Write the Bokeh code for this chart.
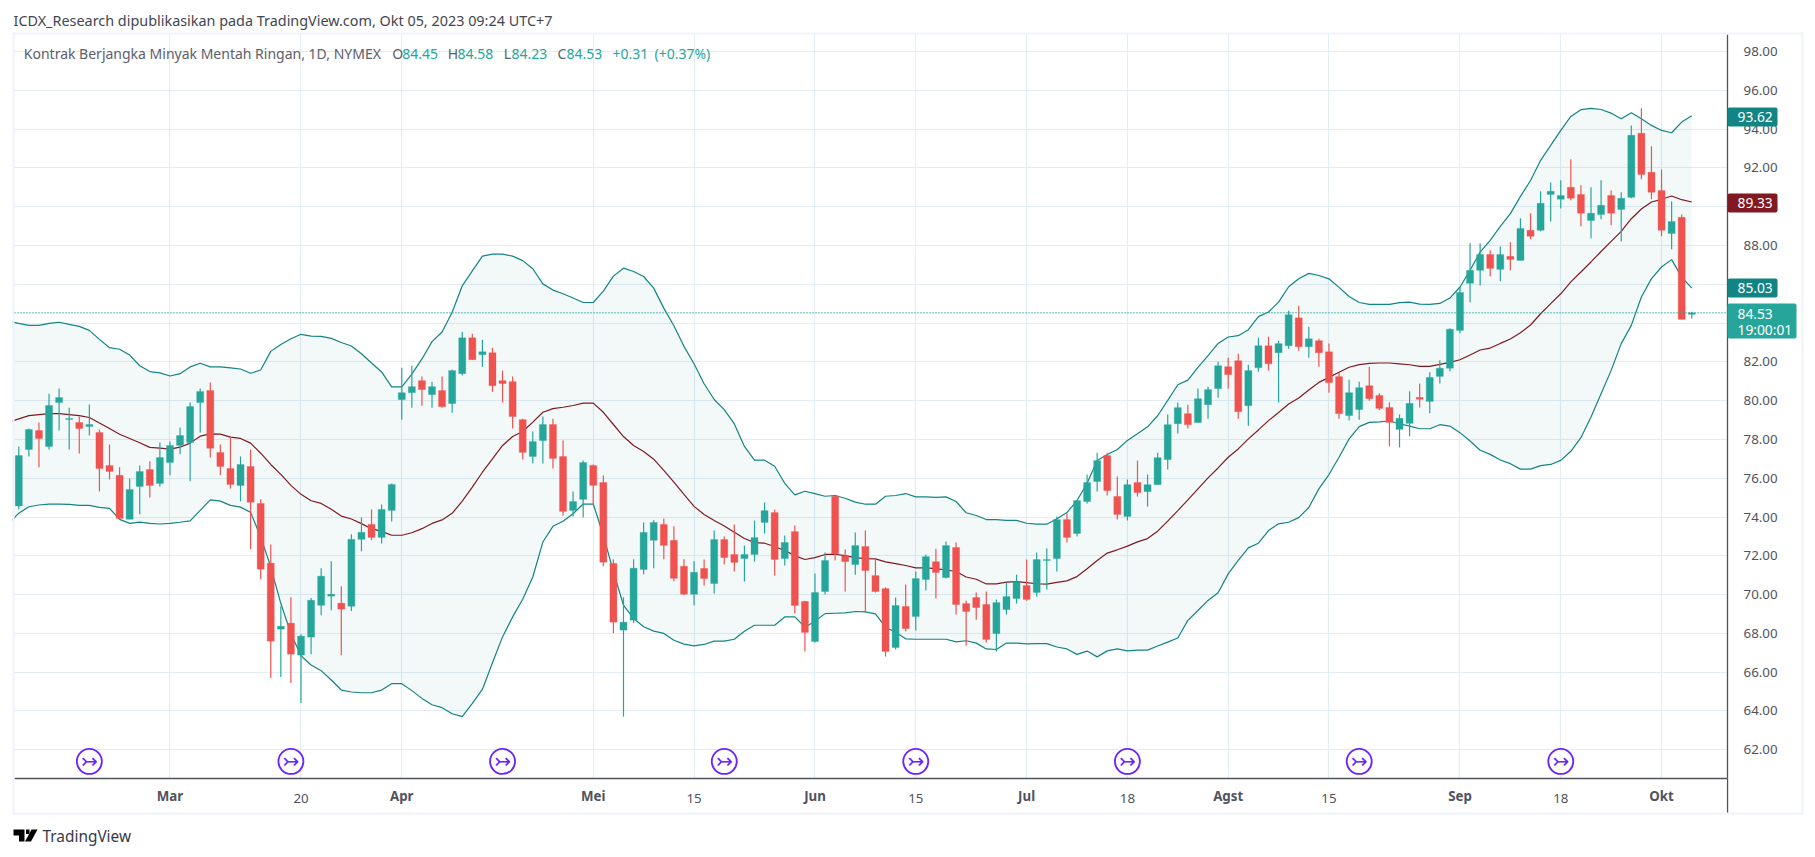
from bokeh.plotting import figure
from bokeh.embed import file_html
from bokeh.resources import INLINE
from bokeh.models import Range1d, FixedTicker, Label, BoxAnnotation, PolyAnnotation, ColumnDataSource, NumeralTickFormatter
from bokeh.core.properties import value

opens = [74.57,77.48,78.46,77.64,79.90,79.03,78.87,78.67,78.36,76.66,
76.15,73.88,75.58,76.45,75.73,76.81,77.69,77.84,79.90,80.52,
77.33,76.50,75.63,76.61,74.70,71.62,68.22,68.53,66.88,67.81,
69.45,69.92,69.56,69.40,72.85,73.62,72.95,74.34,80.05,80.41,
81.03,80.31,80.52,79.85,81.39,83.24,82.37,82.47,81.03,80.98,
79.02,77.12,77.94,78.77,77.12,74.34,74.91,76.66,75.78,71.61,
68.17,68.68,71.30,72.80,73.62,72.80,71.46,70.02,71.35,70.57,
72.84,72.07,71.86,72.07,73.72,74.23,71.86,73.25,69.65,67.58,
70.16,75.07,72.00,71.55,72.48,70.98,70.31,67.27,69.39,68.87,
70.78,71.70,70.88,72.43,69.54,69.85,69.49,67.99,69.23,69.80,
70.47,70.11,71.76,71.86,73.87,73.15,74.80,75.83,77.17,75.06,
74.03,75.78,75.31,75.67,76.96,78.81,79.33,78.87,79.79,80.62,
81.75,82.06,79.74,81.70,82.83,82.47,82.83,84.27,82.78,83.09,
82.52,81.24,79.23,79.54,80.77,80.27,79.65,78.52,78.83,80.17,
79.96,81.25,81.67,83.62,86.05,86.72,87.54,86.77,87.44,87.23,
88.78,88.78,90.63,90.38,91.00,90.63,89.29,89.60,90.58,89.86,
90.48,93.78,91.77,90.84,88.62,89.45,84.45]
highs = [77.64,78.56,78.87,80.36,80.62,79.64,79.18,79.80,78.51,77.74,
76.56,75.99,76.66,76.87,77.84,77.89,78.62,79.90,80.62,80.93,
77.74,78.15,77.12,77.48,74.91,72.59,69.40,69.87,67.96,69.82,
71.36,71.72,70.43,73.11,73.98,74.39,74.65,75.73,81.70,81.80,
81.24,80.98,81.24,81.60,83.55,83.45,83.14,82.73,81.55,81.24,
79.07,78.41,79.18,79.07,77.94,75.32,76.91,76.71,76.14,71.82,
69.86,71.82,73.72,73.83,73.93,73.52,71.82,71.72,71.81,73.30,
73.00,73.62,72.53,73.82,74.75,74.39,73.05,73.56,69.69,71.09,
72.17,75.07,72.32,73.20,73.30,71.81,70.37,69.85,70.52,71.19,
72.07,72.37,72.74,72.69,69.69,70.11,70.16,69.75,70.62,71.03,
71.81,72.17,72.38,74.03,74.18,74.85,76.19,77.32,77.32,76.09,
75.93,76.91,76.19,77.32,79.28,79.90,79.79,80.62,80.72,82.01,
82.21,82.42,81.85,83.24,83.30,83.09,84.64,84.89,83.81,83.19,
82.94,81.44,81.08,80.98,81.75,80.38,79.91,79.29,80.48,80.89,
81.46,82.08,83.73,85.84,88.11,88.11,87.75,87.95,88.16,89.40,
89.66,90.79,91.25,91.36,92.44,91.10,91.00,91.36,90.84,90.74,
94.19,95.07,93.11,91.92,90.27,89.60,84.58]
lows = [74.40,77.12,76.56,77.48,78.46,77.48,77.28,78.20,75.32,75.94,
73.88,73.88,74.14,75.01,75.58,76.15,77.23,75.84,78.36,77.07,
76.15,75.47,74.81,72.34,70.79,65.70,65.75,65.44,64.41,66.93,
68.94,69.20,66.88,69.15,72.23,72.80,72.64,73.77,79.02,79.64,
79.74,79.64,79.64,79.38,81.29,82.11,81.75,80.46,79.90,78.56,
76.97,76.76,76.76,76.50,74.08,74.03,73.98,74.60,71.46,68.01,
63.71,68.53,71.05,71.36,71.82,70.69,69.97,69.45,70.47,70.06,
71.55,71.19,70.67,71.70,73.15,70.98,71.50,69.03,67.07,67.53,
70.00,71.76,70.16,71.03,69.08,70.11,66.81,67.17,68.10,68.15,
70.21,69.80,70.83,68.97,67.37,68.71,67.53,67.07,68.97,69.54,
69.69,69.90,70.27,71.19,72.69,72.99,74.70,75.31,75.11,73.87,
73.82,75.06,74.54,75.67,76.45,78.30,78.56,78.87,79.07,80.15,
80.62,79.07,78.71,81.49,81.55,79.90,82.68,82.57,82.21,81.75,
80.41,79.07,78.97,79.02,80.00,79.50,77.64,77.59,78.16,79.65,
79.35,80.89,81.51,83.47,85.07,85.94,86.41,86.15,86.72,87.23,
88.32,88.73,89.24,89.91,90.33,88.99,88.37,89.35,89.04,88.21,
90.43,91.41,90.38,88.47,87.80,84.19,84.23]
closes = [77.17,78.51,78.05,79.75,80.16,79.08,78.56,78.77,76.50,76.35,
73.93,75.42,76.35,75.63,77.07,77.69,78.20,79.70,80.47,77.54,
76.61,75.68,76.71,74.76,71.31,67.60,68.37,66.93,67.86,69.71,
70.95,70.02,69.25,72.85,73.21,72.95,74.39,75.68,80.41,80.72,
80.57,80.72,79.69,81.55,83.24,82.11,82.52,80.77,80.88,79.18,
77.33,77.89,78.77,77.02,74.29,74.80,76.81,75.63,71.67,68.58,
68.58,71.36,73.21,73.72,72.54,70.84,70.02,71.15,70.83,72.84,
71.91,71.66,72.07,72.94,74.33,71.81,72.69,69.44,68.05,70.11,
71.76,72.10,71.70,72.53,71.24,70.16,67.07,69.44,68.25,70.83,
71.96,71.14,72.53,69.49,69.13,69.33,67.69,69.59,69.90,70.67,
69.75,71.81,71.81,73.87,72.95,74.85,75.78,76.91,75.36,74.13,
75.67,75.26,75.67,77.06,78.76,79.64,78.76,80.10,80.57,81.80,
81.34,79.43,81.55,82.83,81.90,82.94,84.43,82.78,83.19,82.47,
80.93,79.33,80.41,80.67,80.10,79.60,78.88,79.09,79.86,80.07,
81.20,81.67,83.68,85.58,86.72,87.54,86.82,87.54,87.28,88.88,
88.47,90.17,90.79,90.58,90.43,89.66,89.66,90.07,89.66,90.43,
93.68,91.66,90.74,88.78,89.24,84.19,84.53]

# Bollinger bands; the first value of each belongs to the bar just left of the pane
upper = [84.09,83.98,83.88,83.88,83.98,84.04,83.93,83.83,83.62,83.16,82.73,
82.65,82.35,81.80,81.50,81.43,81.27,81.39,81.74,81.93,81.74,
81.74,81.69,81.63,81.41,81.58,82.54,82.89,83.19,83.42,83.33,
83.31,83.21,83.00,82.82,82.42,81.94,81.48,80.71,80.71,81.37,
82.15,83.04,83.54,84.56,85.92,86.69,87.45,87.55,87.55,87.45,
87.22,86.80,86.02,85.70,85.51,85.29,85.06,85.06,85.65,86.42,
86.83,86.66,86.40,85.80,84.77,83.86,82.80,81.90,80.87,80.06,
79.54,78.80,77.64,76.93,76.93,76.62,75.74,75.14,75.33,75.21,
75.07,75.11,74.97,74.77,74.66,74.66,75.07,75.11,75.21,75.04,
75.04,75.01,75.04,74.80,74.22,74.08,73.87,73.87,73.83,73.83,
73.68,73.63,73.63,73.91,74.23,74.85,75.74,76.91,77.22,77.48,
77.95,78.29,78.65,79.22,80.01,80.82,81.06,81.72,82.32,82.95,
83.28,83.35,83.66,84.33,84.57,85.08,85.87,86.28,86.56,86.45,
86.28,85.84,85.37,85.06,84.96,84.96,84.96,85.05,85.08,84.98,
84.96,85.01,85.29,85.86,86.72,87.66,88.26,88.98,89.64,90.53,
91.35,92.39,93.16,93.93,94.65,95.00,95.07,95.01,94.82,94.53,
94.84,94.53,94.19,93.93,93.81,94.36,94.69]
basis = [78.89,79.06,79.23,79.28,79.33,79.33,79.28,79.23,79.13,78.85,78.56,
78.27,78.05,77.83,77.59,77.55,77.50,77.60,77.81,78.17,78.29,
78.27,78.12,78.05,77.81,77.29,76.71,76.20,75.63,75.17,74.84,
74.70,74.40,74.05,73.90,73.66,73.40,73.26,73.06,73.06,73.19,
73.40,73.67,73.85,74.19,74.82,75.54,76.31,77.00,77.69,78.15,
78.41,78.89,79.40,79.59,79.66,79.75,79.87,79.87,79.40,78.77,
78.15,77.69,77.38,76.98,76.40,75.80,75.17,74.55,74.13,73.82,
73.54,73.22,72.89,72.68,72.65,72.48,72.27,72.01,71.81,71.91,
72.07,72.08,72.01,71.91,71.86,71.84,71.69,71.60,71.50,71.38,
71.38,71.34,71.27,71.19,70.91,70.79,70.55,70.55,70.64,70.67,
70.62,70.56,70.54,70.63,70.71,70.93,71.33,71.76,72.14,72.31,
72.50,72.72,72.89,73.27,73.79,74.33,74.88,75.45,76.02,76.53,
77.08,77.51,78.03,78.49,78.97,79.39,79.83,80.14,80.55,80.94,
81.20,81.46,81.72,81.86,81.92,81.94,81.94,81.90,81.85,81.77,
81.77,81.87,81.97,82.11,82.35,82.61,82.71,82.95,83.18,83.50,
83.90,84.48,85.00,85.51,86.12,86.63,87.15,87.69,88.21,88.73,
89.38,89.88,90.24,90.38,90.55,90.36,90.24]
lower = [73.66,74.20,74.53,74.62,74.67,74.67,74.65,74.60,74.60,74.50,74.45,
73.88,73.67,73.74,73.67,73.64,73.67,73.73,73.80,74.34,74.88,
74.82,74.60,74.51,74.24,72.97,71.43,69.54,67.99,66.85,66.37,
66.08,65.60,65.08,64.98,64.94,64.94,65.08,65.41,65.41,65.05,
64.65,64.32,64.17,63.86,63.71,64.39,65.11,66.49,67.82,68.85,
69.76,70.91,72.71,73.52,73.78,74.17,74.67,74.67,73.06,71.17,
69.45,68.77,68.34,68.12,68.00,67.65,67.45,67.36,67.43,67.60,
67.60,67.70,68.11,68.42,68.42,68.42,68.85,68.85,68.32,68.63,
69.02,69.04,69.06,69.13,69.11,69.01,68.32,68.06,67.72,67.70,
67.70,67.70,67.70,67.56,67.62,67.50,67.20,67.17,67.50,67.50,
67.46,67.47,67.47,67.30,67.20,66.92,67.09,66.79,67.10,67.20,
67.10,67.14,67.14,67.35,67.55,67.76,68.67,69.18,69.70,70.10,
71.07,71.76,72.41,72.65,73.30,73.65,73.73,73.97,74.49,75.45,
76.19,77.08,78.03,78.66,78.88,78.91,78.95,78.81,78.69,78.55,
78.55,78.76,78.69,78.35,77.92,77.44,77.23,76.94,76.75,76.47,
76.47,76.65,76.71,76.92,77.39,78.09,79.16,80.36,81.56,82.94,
83.88,85.34,86.29,86.89,87.27,86.37,85.80]

y_ticks = list(range(62, 100, 2))
x_tick_bars = [15, 28, 38, 57, 67, 79, 89, 100, 110, 120, 130, 143, 153, 163]
x_tick_labels = ["Mar", "20", "Apr", "Mei", "15", "Jun", "15", "Jul", "18", "Agst", "15", "Sep", "18", "Okt"]
x_tick_bold = [True, False, True, True, False, True, False, True, False, True, False, True, False, True]
event_bars = [7, 27, 48, 70, 89, 110, 133, 153]
event_price = 61.40
last_price = 84.53

FONT = "Noto Sans"
GREEN, RED = "#26a69a", "#ef5350"
BAND, BASIS = "#138484", "#801922"
GRID = "#e3edf3"
AXIS = "#50535e"
TXT = "#5d606b"
FRAME = "#f0f3fa"
PURPLE = "#6a22ff"

n = len(opens)
bars = list(range(n))
band_bars = list(range(-1, n))
colors = [GREEN if c >= o else RED for o, c in zip(opens, closes)]
tops = [max(o, c) for o, c in zip(opens, closes)]
bots = [min(o, c) for o, c in zip(opens, closes)]
src = ColumnDataSource(dict(x=bars, high=highs, low=lows, top=tops, bottom=bots, color=colors))

# The plot frame fills the whole canvas so that every text is inside it; the price pane is a part of it
W, H = 1810, 850
X_PANE = (-0.4267, 169.55)
Y_PANE = (60.52, 98.876)
p = figure(width=W, height=H, output_backend="svg", toolbar_location=None,
           x_range=Range1d(-1.816, 177.78), y_range=Range1d(56.808, 100.629),
           y_axis_location="right", min_border=0,
           background_fill_color="white", border_fill_color="white")
p.outline_line_color = None

for g in (p.xgrid, p.ygrid):
    g.grid_line_color = GRID
    g.grid_line_width = 1.2
p.xgrid.ticker = FixedTicker(ticks=x_tick_bars)
p.ygrid.ticker = FixedTicker(ticks=y_ticks)

xa, ya = p.xaxis[0], p.yaxis[0]
xa.fixed_location = Y_PANE[0]
ya.fixed_location = X_PANE[1]
xa.bounds = X_PANE
ya.bounds = Y_PANE
xa.ticker = FixedTicker(ticks=x_tick_bars)
xa.major_label_overrides = {b: ("" if bold else t) for b, t, bold in zip(x_tick_bars, x_tick_labels, x_tick_bold)}
ya.ticker = FixedTicker(ticks=y_ticks)
ya.formatter = NumeralTickFormatter(format="0.00")
for a in (xa, ya):
    a.axis_line_color = AXIS
    a.axis_line_width = 1.3
    a.major_tick_line_color = None
    a.minor_tick_line_color = None
    a.major_label_text_color = AXIS
    a.major_label_text_font = FONT
    a.major_label_text_font_size = "13.3px"
ya.major_label_standoff = 10
xa.major_label_standoff = 10


def box(l, r, t, b, color, radius=0, level="annotation"):
    p.add_layout(BoxAnnotation(left=l, right=r, top=t, bottom=b, level=level,
                               left_units="canvas", right_units="canvas", top_units="canvas", bottom_units="canvas",
                               fill_color=color, fill_alpha=1, line_color=None, border_radius=radius))


def label(x, y, text, color=TXT, size="13.3px", style="normal", align="left", x_units="canvas", font=FONT):
    p.add_layout(Label(x=x, y=y, text=text, x_units=x_units, y_units="canvas",
                       text_color=color, text_font=font, text_font_size=size,
                       text_font_style=style, text_align=align, text_baseline="middle"))


# keep the grid inside the pane
box(0, 14, 0, H, "white", level="underlay")
box(0, W, 0, 34, "white", level="underlay")
box(0, W, 778, H, "white", level="underlay")
box(1727, W, 0, H, "white", level="underlay")

p.varea(band_bars, upper, lower, fill_color=BAND, fill_alpha=0.05)
p.line(band_bars, upper, line_color=BAND, line_width=1.2)
p.line(band_bars, lower, line_color=BAND, line_width=1.2)
p.line(band_bars, basis, line_color=BASIS, line_width=1.2)

p.segment("x", "high", "x", "low", source=src, line_color="color", line_width=1.2)
p.vbar("x", width=0.7, top="top", bottom="bottom", source=src, fill_color="color", line_color="color", line_width=0.3)

p.line(list(X_PANE), [last_price, last_price], line_color=GREEN, line_dash="1 2", line_width=1.3)

p.scatter(event_bars, [event_price] * len(event_bars), marker="circle", size=25,
          fill_color="white", line_color=PURPLE, line_width=1.8)
p.text(event_bars, [event_price] * len(event_bars), text=["\u21a3"] * len(event_bars),
       text_color=PURPLE, text_align="center", text_baseline="middle",
       text_font=value("DejaVu Sans"), text_font_size="20px")

# clip the band left of the pane, then the outer frame
box(0, 12, 34, 778, "white")
box(12, 14, 32, 814, FRAME)
box(12, 1803, 32, 34, FRAME)
box(12, 1803, 812, 814, FRAME)
box(1801, 1803, 32, 814, FRAME)
box(1726.4, 1727.7, 778, 812, AXIS)

# bold month labels
for b, t, bold in zip(x_tick_bars, x_tick_labels, x_tick_bold):
    if bold:
        label(b, 795, t, color=AXIS, style="bold", align="center", x_units="data")

# price tags
box(1727, 1777, 107, 126, BAND, 2)
box(1727, 1777, 193, 212, BASIS, 2)
box(1727, 1777, 278, 297, BAND, 2)
box(1727, 1796, 303, 338, GREEN, 2)
label(1737, 116.5, "93.62", color="white", size="13.8px")
label(1737, 202.5, "89.33", color="white", size="13.8px")
label(1737, 287.5, "85.03", color="white", size="13.8px")
label(1737, 313, "84.53", color="white", size="13.8px")
label(1737, 329, "19:00:01", color="white", size="13.8px")

# header and legend
label(13, 20, "ICDX_Research dipublikasikan pada TradingView.com, Okt 05, 2023 09:24 UTC+7", color="#434651", size="14.4px")
label(23.3, 53, "Kontrak Berjangka Minyak Mentah Ringan, 1D, NYMEX", size="14px")
for x, t, c in [(391.7, "O", TXT), (401.7, "84.45", GREEN), (447.3, "H", TXT), (457, "84.58", GREEN),
                (503.3, "L", TXT), (511, "84.23", GREEN), (557, "C", TXT), (566, "84.53", GREEN),
                (612, "+0.31", GREEN), (654, "(+0.37%)", GREEN)]:
    label(x, 53, t, color=c, size="14px")


def poly(xs, ys, color="#000000"):
    p.add_layout(PolyAnnotation(xs=xs, ys=ys, xs_units="canvas", ys_units="canvas",
                                fill_color=color, fill_alpha=1, line_color=None))


# footer logo and name
poly([13, 24, 24, 18.5, 18.5, 13], [829, 829, 841, 841, 835, 835])
poly([31, 37, 30.5, 24.5], [829, 829, 841, 841])
poly([25.5, 29, 29, 25.5], [829, 829, 833.5, 833.5])
label(42, 836, "TradingView", color="#363a45", size="15.4px")

open("out.html", "w").write(file_html(p, INLINE))
